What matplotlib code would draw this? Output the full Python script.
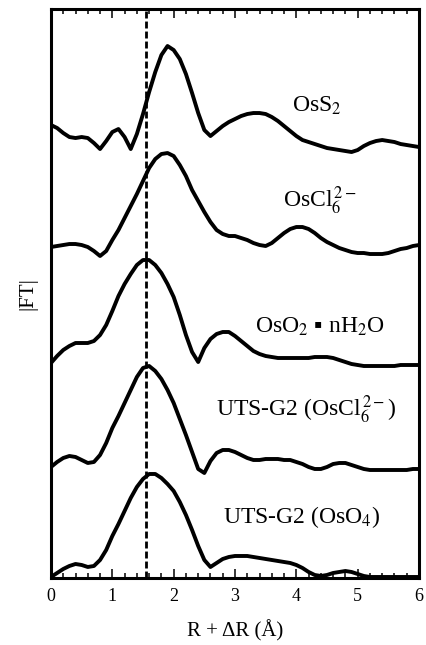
import numpy as np
import matplotlib
matplotlib.use("Agg")
import matplotlib.pyplot as plt
from matplotlib.ticker import MultipleLocator

plt.rcParams['font.family'] = ['Liberation Serif', 'DejaVu Sans']
plt.rcParams['mathtext.fontset'] = 'stix'
plt.rcParams['lines.scale_dashes'] = False

# R + dR grid (Angstrom)
r = np.round(np.arange(0, 6.01, 0.1), 1)

# |FT| magnitudes (arbitrary units), one list per sample
ft_oss2 = [0.27, 0.24, 0.19, 0.15, 0.14, 0.15, 0.14, 0.09, 0.03, 0.11,
           0.20, 0.23, 0.15, 0.03, 0.18, 0.38, 0.60, 0.80, 0.97, 1.06,
           1.02, 0.93, 0.78, 0.59, 0.39, 0.22, 0.16, 0.21, 0.26, 0.30,
           0.33, 0.36, 0.38, 0.39, 0.39, 0.38, 0.35, 0.31, 0.26, 0.21,
           0.16, 0.12, 0.10, 0.08, 0.06, 0.04, 0.03, 0.02, 0.01, 0.00,
           0.02, 0.06, 0.09, 0.11, 0.12, 0.11, 0.10, 0.08, 0.07, 0.06, 0.05]
ft_oscl6 = [0.09, 0.10, 0.11, 0.12, 0.12, 0.11, 0.09, 0.05, 0.00, 0.05,
            0.16, 0.26, 0.38, 0.50, 0.62, 0.75, 0.88, 0.97, 1.02, 1.03,
            1.00, 0.91, 0.80, 0.66, 0.55, 0.44, 0.34, 0.26, 0.22, 0.20,
            0.20, 0.18, 0.16, 0.13, 0.11, 0.10, 0.13, 0.18, 0.23, 0.27,
            0.29, 0.29, 0.27, 0.23, 0.18, 0.14, 0.11, 0.08, 0.06, 0.04,
            0.03, 0.03, 0.02, 0.02, 0.02, 0.03, 0.05, 0.07, 0.08, 0.10, 0.11]
ft_oso2 = [0.03, 0.10, 0.16, 0.20, 0.23, 0.23, 0.23, 0.25, 0.31, 0.41,
           0.55, 0.70, 0.82, 0.92, 1.01, 1.06, 1.06, 1.01, 0.93, 0.82,
           0.69, 0.51, 0.31, 0.14, 0.04, 0.18, 0.27, 0.32, 0.34, 0.34,
           0.30, 0.25, 0.20, 0.15, 0.12, 0.10, 0.09, 0.08, 0.08, 0.08,
           0.08, 0.08, 0.08, 0.09, 0.09, 0.09, 0.08, 0.06, 0.04, 0.02,
           0.01, 0.00, 0.00, 0.00, 0.00, 0.00, 0.00, 0.01, 0.01, 0.01, 0.01]
ft_g2_cl = [0.09, 0.14, 0.18, 0.20, 0.19, 0.16, 0.13, 0.14, 0.21, 0.33,
            0.48, 0.60, 0.73, 0.86, 0.99, 1.08, 1.10, 1.05, 0.97, 0.86,
            0.73, 0.57, 0.41, 0.24, 0.07, 0.03, 0.15, 0.23, 0.26, 0.26,
            0.24, 0.21, 0.18, 0.16, 0.16, 0.17, 0.17, 0.17, 0.16, 0.16,
            0.14, 0.12, 0.09, 0.07, 0.07, 0.09, 0.12, 0.13, 0.13, 0.11,
            0.09, 0.07, 0.06, 0.06, 0.06, 0.06, 0.06, 0.06, 0.06, 0.07, 0.07]
ft_g2_o4 = [0.01, 0.05, 0.09, 0.12, 0.14, 0.13, 0.11, 0.12, 0.18, 0.28,
            0.42, 0.54, 0.67, 0.80, 0.91, 0.99, 1.04, 1.04, 1.00, 0.94,
            0.87, 0.76, 0.63, 0.48, 0.32, 0.18, 0.11, 0.15, 0.19, 0.21,
            0.22, 0.22, 0.22, 0.21, 0.20, 0.19, 0.18, 0.17, 0.16, 0.15,
            0.13, 0.10, 0.06, 0.03, 0.02, 0.03, 0.05, 0.06, 0.07, 0.06,
            0.04, 0.02, 0.01, 0.01, 0.01, 0.01, 0.01, 0.01, 0.01, 0.01, 0.01]

spectra = [ft_oss2, ft_oscl6, ft_oso2, ft_g2_cl, ft_g2_o4]
offsets = [4.26, 3.22, 2.12, 1.02, 0.0]
labels = [r'OsS$_2$',
          r'OsCl$_6^{\,2-}$',
          'OsO$_2$ \u25aa nH$_2$O',
          r'UTS-G2 (OsCl$_6^{\,2-}$)',
          r'UTS-G2 (OsO$_4$)']
label_pos = [(4.34, 4.66), (4.39, 3.70), (4.39, 2.45), (4.16, 1.61), (4.09, 0.55)]

os_o_peak = 1.55

fig = plt.figure(figsize=(4.26, 6.45), dpi=100)
ax = fig.add_axes([0.1197, 0.1039, 0.8639, 0.8821])

for ft, off in zip(spectra, offsets):
    ax.plot(r, np.array(ft) + off, color='black', lw=2.8,
            solid_joinstyle='round', solid_capstyle='round')

# dashed marker at the Os-O distance
ax.axvline(os_o_peak, color='black', lw=2.0, ls=(0, (5, 2.2)))

for text, (tx, ty) in zip(labels, label_pos):
    ax.text(tx, ty, text, ha='center', va='baseline', fontsize=17)

ax.set_xlim(0, 6)
ax.set_ylim(0, 5.69)
ax.xaxis.set_major_locator(MultipleLocator(1))
ax.xaxis.set_minor_locator(MultipleLocator(0.2))
ax.tick_params(axis='x', which='both', direction='in', top=True, width=1.1, labelsize=13, pad=7)
ax.tick_params(axis='x', which='major', length=6.5)
ax.tick_params(axis='x', which='minor', length=3.5)
ax.set_yticks([])
for s in ax.spines.values():
    s.set_linewidth(2.2)

ax.set_xlabel('R + \u0394R (\u00c5)', fontsize=15, labelpad=11)
ax.set_ylabel('|FT|', fontsize=15, labelpad=10)

fig.savefig('out.png', dpi=100)
